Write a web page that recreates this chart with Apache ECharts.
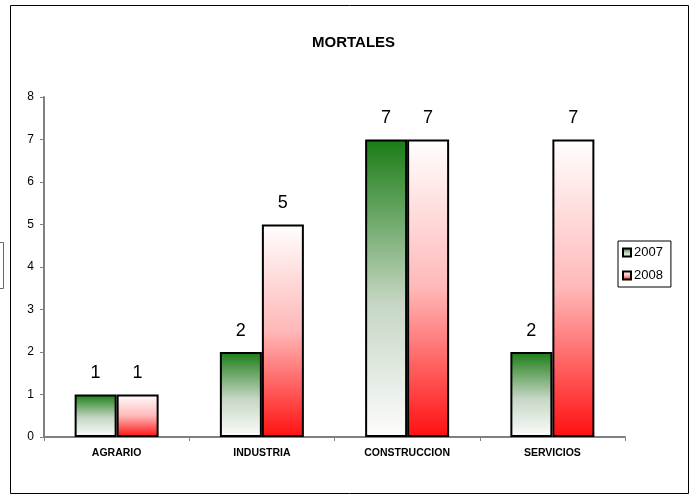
<!DOCTYPE html>
<html><head><meta charset="utf-8">
<script src="https://cdn.jsdelivr.net/npm/echarts@6/dist/echarts.min.js"></script>
<style>html,body{margin:0;padding:0;background:#fff}#c{width:691px;height:495px}</style>
</head><body><div id="c"></div>
<script>
const categories = ['AGRARIO', 'INDUSTRIA', 'CONSTRUCCION', 'SERVICIOS'];
const values2007 = [1, 2, 7, 2];
const values2008 = [1, 5, 7, 7];
const yTicks = [0, 1, 2, 3, 4, 5, 6, 7, 8];

const FONT = 'Liberation Sans, Arial, sans-serif';
const greenGrad = new echarts.graphic.LinearGradient(0, 0, 0, 1, [
  {offset: 0, color: '#1a7d14'}, {offset: 0.55, color: '#c6d6c4'}, {offset: 1, color: '#fdfdfd'}]);
const redGrad = new echarts.graphic.LinearGradient(0, 0, 0, 1, [
  {offset: 0, color: '#ffffff'}, {offset: 0.5, color: '#ffb8b8'}, {offset: 1, color: '#ff1010'}]);

const chart = echarts.init(document.getElementById('c'));
chart.setOption({
  animation: false,
  backgroundColor: '#fff',
  title: {text: 'MORTALES', left: 307, top: 30,
    textStyle: {fontFamily: FONT, fontSize: 15, fontWeight: 'bold', color: '#000'}},
  graphic: [
    {type: 'rect', shape: {x: 10.5, y: 5.5, width: 678, height: 488}, style: {fill: 'none', stroke: '#000', lineWidth: 1}, z: -1},
    {type: 'rect', shape: {x: -5.5, y: 242.5, width: 9, height: 46}, style: {fill: '#fff', stroke: '#666', lineWidth: 1}}
  ],
  legend: {
    orient: 'vertical', left: 618, top: 241, width: 54,
    backgroundColor: '#fff', borderColor: '#000', borderWidth: 1,
    padding: [5, 8, 5, 4], itemGap: 10, itemWidth: 8, itemHeight: 8,
    textStyle: {fontFamily: FONT, fontSize: 13, color: '#000', padding: [0, 0, 0, -2]},
    icon: 'rect',
    data: [
      {name: '2007', itemStyle: {color: greenGrad, borderColor: '#000', borderWidth: 2}},
      {name: '2008', itemStyle: {color: redGrad, borderColor: '#000', borderWidth: 2}}
    ]
  },
  grid: {left: 44, right: 66, top: 97, bottom: 58, containLabel: false},
  xAxis: {
    type: 'category', data: categories,
    axisLine: {lineStyle: {color: '#808080', width: 2}},
    axisTick: {show: true, length: 4, lineStyle: {color: '#808080'}},
    axisLabel: {fontFamily: FONT, fontSize: 10.5, fontWeight: 'bold', color: '#000', margin: 11}
  },
  yAxis: {
    type: 'value', min: yTicks[0], max: yTicks[yTicks.length - 1], interval: 1,
    axisLine: {show: true, lineStyle: {color: '#808080', width: 2}},
    axisTick: {show: true, length: 4, lineStyle: {color: '#808080'}},
    splitLine: {show: false},
    axisLabel: {fontFamily: FONT, fontSize: 12, color: '#000', margin: 10}
  },
  series: [
    {name: '2007', type: 'bar', data: values2007, barWidth: 42, barGap: '0%',
      itemStyle: {color: greenGrad, borderColor: '#000', borderWidth: 2},
      label: {show: true, position: 'top', distance: 12, fontFamily: FONT, fontSize: 18, color: '#000'}},
    {name: '2008', type: 'bar', data: values2008, barWidth: 42, barGap: '0%',
      itemStyle: {color: redGrad, borderColor: '#000', borderWidth: 2},
      label: {show: true, position: 'top', distance: 12, fontFamily: FONT, fontSize: 18, color: '#000'}}
  ]
});
</script></body></html>
